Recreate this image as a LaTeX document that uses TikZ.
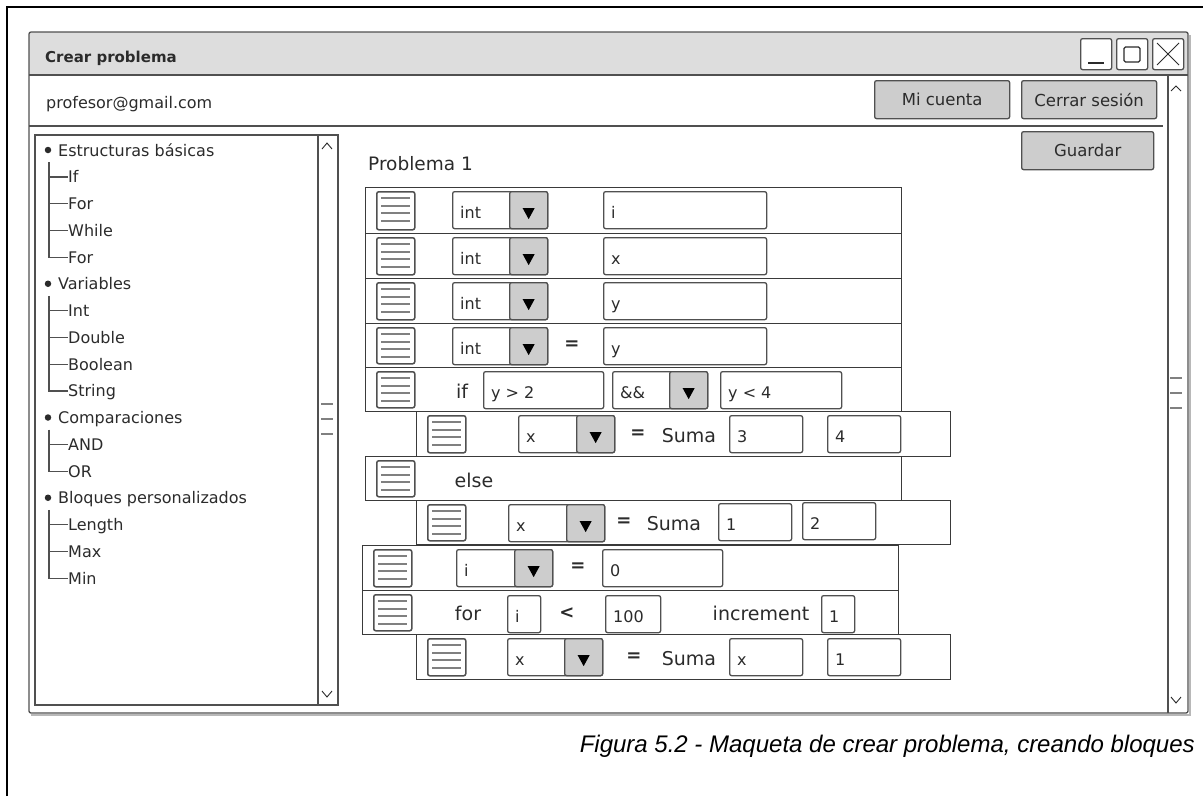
\documentclass[tikz,border=0pt]{standalone}
\usepackage{fontspec}
\setmainfont{DejaVu Sans}
\newfontfamily\capfont{Liberation Sans}

\definecolor{winline}{HTML}{505050}
\definecolor{rowline}{HTML}{3A3A3A}
\definecolor{bargray}{HTML}{DDDDDD}
\definecolor{btngray}{HTML}{CDCDCD}
\definecolor{gripgray}{HTML}{808080}
\definecolor{uitext}{HTML}{2B2B2B}
\definecolor{shadowgray}{HTML}{B8B8B8}

\newcommand\uisize[1]{\fontsize{#1}{#1}\selectfont}

\tikzset{
  frameline/.style={line width=2.4pt, black},
  win/.style={draw=winline, line width=1.3pt},
  shadowline/.style={draw=shadowgray, line width=1.5pt},
  btn/.style={draw=winline, fill=btngray, line width=1.3pt, rounded corners=2pt,
    inner sep=0pt, anchor=north west, minimum height=38pt, text=uitext, font=\uisize{16.5}},
  winbtn/.style={draw=winline, fill=white, line width=1.3pt, rounded corners=2pt,
    inner sep=0pt, anchor=north west, minimum width=31pt, minimum height=31pt},
  glyphline/.style={draw=uitext, line width=1.3pt},
  chevron/.style={draw=uitext, line width=0.9pt},
  field/.style={draw=winline, fill=white, line width=1.3pt, rounded corners=2pt,
    inner sep=0pt, anchor=north west, minimum height=37pt},
  dropbtn/.style={field, fill=btngray, anchor=north east, minimum width=38pt},
  droptip/.style={fill=black},
  ftext/.style={anchor=base west, inner sep=0pt, xshift=8pt, yshift=-8pt, text=uitext, font=\uisize{16}},
  blabel/.style={anchor=base, inner sep=0pt, text=uitext, font=\uisize{19}},
  bsign/.style={inner sep=0pt, text=uitext, font=\bfseries\uisize{18}},
  blockrow/.style={draw=rowline, line width=1.1pt, inner sep=0pt, anchor=north west},
  handle/.style={draw=winline, fill=white, line width=1.5pt, rounded corners=2pt,
    inner sep=0pt, anchor=north west, minimum width=38pt},
  gripline/.style={draw=gripgray, line width=2pt},
  treehead/.style={anchor=base west, inner sep=0pt, text=uitext, font=\uisize{16},
    text height=11.5pt, text depth=0pt},
  treeitem/.style={treehead},
  bulletdot/.style={circle, fill=uitext, inner sep=0pt, minimum size=6.5pt},
  treeline/.style={draw=winline, line width=1.4pt},
}

\begin{document}
\begin{tikzpicture}[x=1pt, y=-1pt]
\useasboundingbox (0,0) rectangle (1203,796);

% page frame
\draw[frameline] (7,796) -- (7,7) -- (1203,7);

% window
\fill[bargray, rounded corners=2pt] (29,32) rectangle (1188,75);
\draw[shadowline] (31,715) -- (1190,715) -- (1190,35);
\draw[win, rounded corners=2pt] (29,32) rectangle (1188,713);
\draw[win] (29,75) -- (1188,75);
\node[anchor=base west, inner sep=0pt, text=uitext, font=\bfseries\uisize{15}] (title) at (45,62) {Crear problema};
\node[winbtn] (bmin) at (1080,38) {};
\node[winbtn] (bmax) at (1116,38) {};
\node[winbtn] (bclose) at (1152,38) {};
\draw[glyphline] (1088,63) -- (1104,63);
\draw[glyphline, rounded corners=1.5pt] (1124,47) rectangle (1140,62);
\draw[glyphline, line width=0.9pt] (1157,43) -- (1179,65) (1179,43) -- (1157,65);

% right scrollbar
\draw[win] (1168,75) -- (1168,713);
\draw[chevron] (1171,91) -- (1176,86) -- (1181,91);
\draw[chevron] (1171,697) -- (1176,703) -- (1181,697);
\foreach \gy in {378,393,408} \draw[gripline] (1170,\gy) -- (1182,\gy);

% header
\node[anchor=base west, inner sep=0pt, text=uitext, font=\uisize{16}] (email) at (46,108) {profesor@gmail.com};
\draw[win] (29,126) -- (1163,126);
\node[btn, minimum width=135pt] (cuenta) at (874,80) {Mi cuenta};
\node[btn, minimum width=135pt] (cerrar) at (1021,80) {Cerrar sesión};
\node[btn, minimum width=132pt] (guardar) at (1021,131) {Guardar};

% tree panel
\draw[win] (35,135) rectangle (338,705);
\draw[win] (318,135) -- (318,705);
\draw[chevron] (322,149) -- (327,143) -- (332,149);
\draw[chevron] (322,691) -- (327,697) -- (332,691);
\foreach \gy in {404,419,434} \draw[gripline] (321,\gy) -- (333,\gy);

\foreach \nm/\yy/\txt in {hEst/156/Estructuras básicas, hVar/289.75/Variables,
    hComp/423.5/Comparaciones, hBloq/503.75/Bloques personalizados} {
  \node[treehead] (\nm) at (58,\yy) {\txt};
  \node[bulletdot] (\nm-dot) at (48,\yy-6) {};
  \coordinate (\nm-v) at (49,\yy+6);
}
\foreach \nm/\yy/\txt in {cIf/182.75/If, cFor/209.5/For, cWhile/236.25/While, cForB/263/For,
    cInt/316.5/Int, cDouble/343.25/Double, cBool/370/Boolean, cString/396.75/String,
    cAnd/450.25/AND, cOr/477/OR, cLength/530.5/Length, cMax/557.25/Max, cMin/584/Min}
  \node[treeitem] (\nm) at (68,\yy) {\txt};

\foreach \hd/\last in {hEst/cForB, hVar/cString, hComp/cOr, hBloq/cMin}
  \draw[treeline] (\hd-v) |- (\last.west);
\foreach \c/\hd in {cIf/hEst, cFor/hEst, cWhile/hEst, cInt/hVar, cDouble/hVar, cBool/hVar,
    cAnd/hComp, cLength/hBloq, cMax/hBloq}
  \draw[treeline] (\hd-v |- \c.west) -- (\c.west);

% editor
\node[anchor=base west, inner sep=0pt, text=uitext, font=\uisize{18.5}] (prob) at (368,170) {Problema 1};

\foreach \nm/\lx/\rx/\ty/\by in {r1/365/901/187/233, r2/365/901/233/278, r3/365/901/278/323,
    r4/365/901/323/367, r5/365/901/367/411, n1/416/950/411/456, e1/365/901/456/500,
    n2/416/950/500/544, r6/362/898/545/590, r7/362/898/590/634, n3/416/950/634/679} {
  \node[blockrow, minimum width={(\rx-\lx)*1pt}, minimum height={(\by-\ty)*1pt}] (\nm) at (\lx,\ty) {};
  \node[handle, minimum height={(\by-\ty-8)*1pt}] (\nm-h) at (\lx+11,\ty+4) {};
  \foreach \k in {7,15,22,30} \draw[gripline] (\lx+16,\ty+4+\k) -- (\lx+45,\ty+4+\k);
}

% dropdowns
\foreach \nm/\x/\y/\w/\txt in {d1/452/191/95/int, d2/452/237/95/int, d3/452/282/95/int,
    d4/452/327/95/int, d5/612/371/95/\&\&, d6/518/415/96/x, d7/508/504/96/x,
    d8/456/549/96/i, d9/507/638/95/x} {
  \node[field, minimum width=\w*1pt] (\nm) at (\x,\y) {};
  \node[dropbtn] (\nm-a) at (\nm.north east) {};
  \fill[droptip] ([xshift=-6pt, yshift=2pt]\nm-a.center) -- ([xshift=6pt, yshift=2pt]\nm-a.center)
    -- ([yshift=-9pt]\nm-a.center) -- cycle;
  \node[ftext] (\nm-t) at (\nm.west) {\txt};
}

% text fields
\foreach \nm/\x/\y/\w/\txt in {f1/603/191/163/i, f2/603/237/163/x, f3/603/282/163/y,
    f4/603/327/163/y, f5/483/371/120/y > 2, f6/720/371/121/y < 4, f7/729/415/73/3,
    f8/827/415/73/4, f9/718/503/73/1, f10/802/502/73/2, f11/602/549/120/0,
    f12/507/595/33/i, f13/605/595/55/100, f14/821/595/33/1, f15/729/638/73/x,
    f16/827/638/73/1} {
  \node[field, minimum width=\w*1pt] (\nm) at (\x,\y) {};
  \node[ftext] (\nm-t) at (\nm.west) {\txt};
}

% block words
\foreach \nm/\x/\y/\txt in {lif/462/398/if, lsuma1/689/442/Suma, lelse/474/487/else,
    lsuma2/674/530/Suma, lfor/468/620/for, linc/761/620/increment, lsuma3/689/665/Suma}
  \node[blabel] (\nm) at (\x,\y) {\txt};
\foreach \nm/\x/\y/\txt in {eq1/572/345/=, eq2/638/434/=, eq3/624/522/=, eq4/578/567/=,
    eq5/634/657/=, lt1/567/613/<}
  \node[bsign] (\nm) at (\x,\y) {\txt};

% caption
\node[anchor=base east, inner sep=0pt, font=\capfont\itshape\uisize{24}] (caption) at (1195,752)
  {Figura 5.2 - Maqueta de crear problema, creando bloques};
\end{tikzpicture}
\end{document}
